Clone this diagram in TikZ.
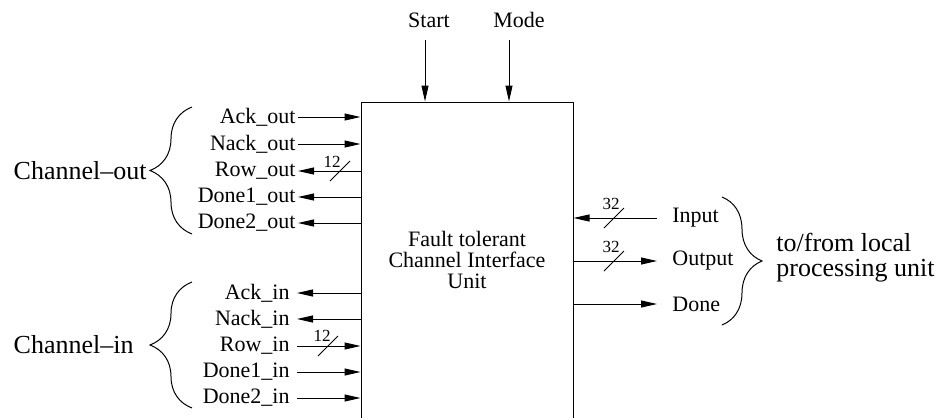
\documentclass[tikz,border=0pt]{standalone}
\usepackage{fontspec}
\setmainfont{Liberation Serif}
\usetikzlibrary{arrows.meta,decorations.pathreplacing}

\begin{document}
\begin{tikzpicture}[
	x=0.5pt, y=-0.5pt,
	sig/.style={ inner sep=1pt, font=\fontsize{11}{13}\selectfont },
	sigin/.style={ sig, inner xsep=3.5pt },
	port/.style={ sig, inner xsep=7.5pt, anchor=west },
	unit/.style={ draw, line width=0.5pt, minimum width=106pt, minimum height=158pt, align=center, inner sep=0pt, font=\fontsize{11}{10.5}\selectfont },
	wire/.style={ line width=0.5pt, -{Triangle[length=8pt,width=3.5pt]} },
	busmark/.style={ line width=0.5pt },
	buswidth/.style={ inner sep=0pt, font=\fontsize{8.5}{10}\selectfont },
	group/.style={ inner sep=1.5pt, align=left, font=\fontsize{13}{12.5}\selectfont },
	bracket/.style={ decorate, decoration={brace, amplitude=21pt}, line width=0.5pt }
]

\useasboundingbox (0,0) rectangle (939,419);
\clip (0,0) rectangle (939,417);

% the unit itself, its bottom runs off the page
\node[unit] (box) at (467,260) {Fault tolerant\\Channel Interface\\Unit};

% control inputs on top
\node[sig] (start) at (429,20) {Start};
\node[sig] (mode) at (519,20) {Mode};
\coordinate (startin) at (425,40);
\coordinate (modein) at (509,40);
\draw[wire] (startin) -- (startin |- box.north);
\draw[wire] (modein) -- (modein |- box.north);

% outgoing channel
\node[sig, anchor=east] (ackout) at (298,117) {Ack\_out};
\node[sig, anchor=east] (nackout) at (298,144) {Nack\_out};
\node[sig, anchor=east] (rowout) at (298,171) {Row\_out};
\node[sig, anchor=east] (doneaout) at (298,197) {Done1\_out};
\node[sig, anchor=east] (donebout) at (298,223) {Done2\_out};
\draw[wire] (ackout) -- (ackout -| box.west);
\draw[wire] (nackout) -- (nackout -| box.west);
\draw[wire] (rowout -| box.west) -- (rowout);
\draw[wire] (doneaout -| box.west) -- (doneaout);
\draw[wire] (donebout -| box.west) -- (donebout);

\coordinate (rowoutbus) at (340,171);
\draw[busmark] ([shift={(-10,10)}]rowoutbus) -- ([shift={(10,-10)}]rowoutbus);
\node[buswidth] (rowoutwidth) at (332,162) {12};

\coordinate (outtop) at (192,107);
\coordinate (outbot) at (192,234);
\draw[bracket] (outbot) -- (outtop);
\node[group, anchor=east] (chout) at (150,171) {Channel\textendash out};

% incoming channel
\node[sigin, anchor=east] (ackin) at (297,293) {Ack\_in};
\node[sigin, anchor=east] (nackin) at (297,319) {Nack\_in};
\node[sigin, anchor=east] (rowin) at (297,346) {Row\_in};
\node[sigin, anchor=east] (doneain) at (297,372) {Done1\_in};
\node[sigin, anchor=east] (donebin) at (297,398) {Done2\_in};
\draw[wire] (ackin -| box.west) -- (ackin);
\draw[wire] (nackin -| box.west) -- (nackin);
\draw[wire] (rowin) -- (rowin -| box.west);
\draw[wire] (doneain) -- (doneain -| box.west);
\draw[wire] (donebin) -- (donebin -| box.west);

\coordinate (rowinbus) at (328,346);
\draw[busmark] ([shift={(-10,10)}]rowinbus) -- ([shift={(10,-10)}]rowinbus);
\node[buswidth] (rowinwidth) at (322,336) {12};

\coordinate (intop) at (192,282);
\coordinate (inbot) at (192,408);
\draw[bracket] (inbot) -- (intop);
\node[group, anchor=east] (chin) at (137,345) {Channel\textendash in};

% local processing unit side
\node[port] (input) at (657,218) {Input};
\node[port] (output) at (657,261) {Output};
\node[port] (done) at (657,304) {Done};
\draw[wire] (input) -- (input -| box.east);
\draw[wire] (output -| box.east) -- (output);
\draw[wire] (done -| box.east) -- (done);

\coordinate (inputbus) at (614,218);
\draw[busmark] ([shift={(-10,10)}]inputbus) -- ([shift={(10,-10)}]inputbus);
\node[buswidth] (inputwidth) at (611,204) {32};
\coordinate (outputbus) at (614,261);
\draw[busmark] ([shift={(-10,10)}]outputbus) -- ([shift={(10,-10)}]outputbus);
\node[buswidth] (outputwidth) at (611,247) {32};

\coordinate (loctop) at (722,197);
\coordinate (locbot) at (722,325);
\draw[bracket, decoration={amplitude=20pt}] (loctop) -- (locbot);
\node[group, anchor=west, inner sep=0pt] (local) at (776,258) {to/from local\\processing unit};

\end{tikzpicture}
\end{document}
